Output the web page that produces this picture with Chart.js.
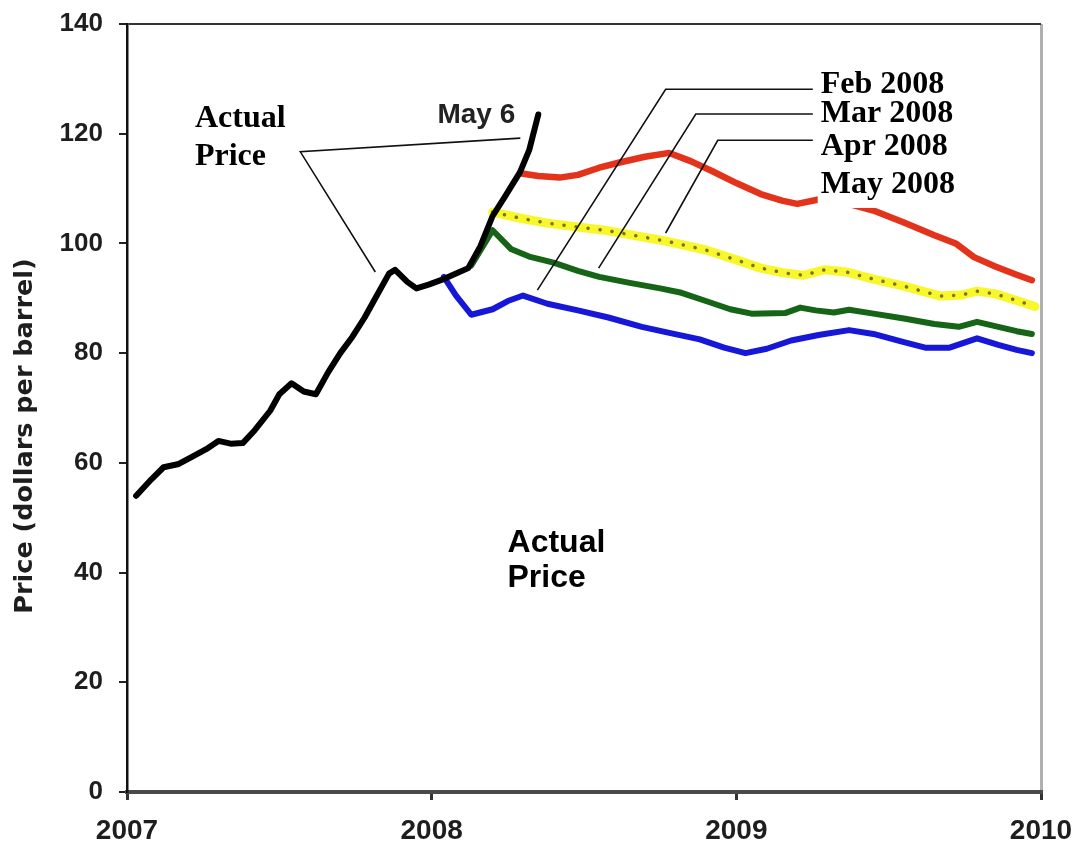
<!DOCTYPE html>
<html>
<head>
<meta charset="utf-8">
<script src="https://cdn.jsdelivr.net/npm/chart.js@4/dist/chart.umd.min.js"></script>
<style>
  body { margin: 0; background: #fff; }
  canvas { display: block; }
</style>
</head>
<body>
<canvas id="chart" width="1075" height="848"></canvas>
<script>
// actual price (black)
var actualX = [2007.03, 2007.08, 2007.12, 2007.17, 2007.21, 2007.26, 2007.30, 2007.34, 2007.38, 2007.42,
               2007.47, 2007.50, 2007.54, 2007.58, 2007.62, 2007.66, 2007.70, 2007.74, 2007.78, 2007.82,
               2007.86, 2007.88, 2007.92, 2007.95, 2007.99, 2008.03, 2008.08, 2008.12, 2008.16, 2008.20,
               2008.24, 2008.29, 2008.32, 2008.35];
var actualY = [54.0, 57.0, 59.2, 59.8, 61.0, 62.5, 64.0, 63.5, 63.6, 66.0,
               69.5, 72.5, 74.5, 73.0, 72.5, 76.5, 80.0, 83.0, 86.5, 90.5,
               94.5, 95.2, 93.0, 91.8, 92.5, 93.3, 94.5, 95.5, 99.5, 105.0,
               108.5, 113.0, 117.0, 123.5];

// May 2008 forecast (red)
var mayX = [2008.29, 2008.35, 2008.42, 2008.48, 2008.55, 2008.62, 2008.70, 2008.78, 2008.85, 2008.92,
            2009.00, 2009.08, 2009.15, 2009.20, 2009.27, 2009.35, 2009.45, 2009.55, 2009.65, 2009.72,
            2009.78, 2009.85, 2009.92, 2009.97];
var mayY = [112.8, 112.3, 112.0, 112.5, 113.8, 114.8, 115.8, 116.5, 115.0, 113.2,
            111.0, 109.0, 107.8, 107.2, 108.0, 107.5, 106.0, 103.8, 101.5, 100.0,
            97.5, 95.8, 94.3, 93.3];

// Apr 2008 forecast (yellow, dotted)
var aprX = [2008.20, 2008.30, 2008.38, 2008.48, 2008.58, 2008.69, 2008.78, 2008.90, 2009.00, 2009.08,
            2009.16, 2009.22, 2009.29, 2009.36, 2009.45, 2009.55, 2009.67, 2009.74, 2009.79, 2009.85,
            2009.92, 2009.98];
var aprY = [105.7, 104.5, 103.7, 103.0, 102.3, 101.2, 100.3, 98.8, 97.0, 95.5,
            94.6, 94.2, 95.2, 94.8, 93.5, 92.2, 90.4, 90.6, 91.3, 90.8,
            89.6, 88.5];

// Mar 2008 forecast (green)
var marX = [2008.13, 2008.20, 2008.26, 2008.32, 2008.40, 2008.48, 2008.55, 2008.65, 2008.75, 2008.82,
            2008.90, 2008.98, 2009.05, 2009.16, 2009.21, 2009.26, 2009.32, 2009.37, 2009.45, 2009.55,
            2009.65, 2009.73, 2009.79, 2009.86, 2009.92, 2009.97];
var marY = [96.0, 102.4, 99.0, 97.6, 96.5, 95.0, 93.9, 92.8, 91.8, 91.0,
            89.5, 88.0, 87.2, 87.3, 88.3, 87.8, 87.4, 87.9, 87.2, 86.3,
            85.3, 84.8, 85.7, 84.8, 84.0, 83.5];

// Feb 2008 forecast (blue)
var febX = [2008.04, 2008.08, 2008.13, 2008.20, 2008.25, 2008.30, 2008.38, 2008.48, 2008.58, 2008.69,
            2008.78, 2008.88, 2008.96, 2009.03, 2009.10, 2009.18, 2009.27, 2009.37, 2009.45, 2009.55,
            2009.62, 2009.70, 2009.79, 2009.86, 2009.92, 2009.97];
var febY = [93.9, 90.5, 87.0, 88.0, 89.5, 90.5, 89.0, 87.8, 86.5, 84.8,
            83.7, 82.5, 81.0, 80.0, 80.8, 82.3, 83.3, 84.2, 83.5, 82.0,
            81.0, 81.0, 82.7, 81.5, 80.6, 80.0];

var yearTicks = [2007, 2008, 2009, 2010];
var yTicks = [0, 20, 40, 60, 80, 100, 120, 140];

function pts(xs, ys) {
    return xs.map(function (x, i) { return { x: x, y: ys[i] }; });
}

function line(data, color, width, extra) {
    var ds = {
        data: data,
        borderColor: color,
        borderWidth: width,
        pointRadius: 0,
        tension: 0,
        fill: false,
        borderJoinStyle: 'round',
        borderCapStyle: 'round'
    };
    for (var k in extra) ds[k] = extra[k];
    return ds;
}

// annotations in data coordinates
var annotations = {
    labels: [
        { text: 'Actual', x: 2007.223, y: 121.2, font: 'bold 32px "Liberation Serif"' },
        { text: 'Price', x: 2007.223, y: 114.3, font: 'bold 32px "Liberation Serif"' },
        { text: 'May 6', x: 2008.019, y: 122.0, font: 'bold 28px "Liberation Sans"', color: '#222' },
        { text: 'Feb 2008', x: 2009.277, y: 127.4, font: 'bold 32px "Liberation Serif"' },
        { text: 'Mar 2008', x: 2009.277, y: 122.1, font: 'bold 32px "Liberation Serif"' },
        { text: 'Apr 2008', x: 2009.277, y: 116.1, font: 'bold 32px "Liberation Serif"' },
        { text: 'May 2008', x: 2009.277, y: 109.2, font: 'bold 32px "Liberation Serif"', box: true },
        { text: 'Actual', x: 2008.249, y: 43.8, font: 'bold 32px "Liberation Sans"' },
        { text: 'Price', x: 2008.249, y: 37.4, font: 'bold 32px "Liberation Sans"' }
    ],
    leaders: [
        [[2007.815, 94.8], [2007.569, 116.7], [2008.291, 119.2]],
        [[2008.347, 91.5], [2008.768, 128.1], [2009.251, 128.1]],
        [[2008.548, 95.5], [2008.867, 123.6], [2009.251, 123.6]],
        [[2008.768, 101.9], [2008.939, 118.8], [2009.251, 118.8]]
    ]
};

var annotationPlugin = {
    id: 'annotationPlugin',
    afterDatasetsDraw: function (chart) {
        var ctx = chart.ctx;
        var xs = chart.scales.x, ys = chart.scales.y;
        ctx.save();
        ctx.strokeStyle = '#111';
        ctx.lineWidth = 1.6;
        annotations.leaders.forEach(function (l) {
            ctx.beginPath();
            l.forEach(function (p, i) {
                var px = xs.getPixelForValue(p[0]), py = ys.getPixelForValue(p[1]);
                if (i === 0) ctx.moveTo(px, py); else ctx.lineTo(px, py);
            });
            ctx.stroke();
        });
        ctx.textAlign = 'left';
        ctx.textBaseline = 'alphabetic';
        annotations.labels.forEach(function (a) {
            var px = xs.getPixelForValue(a.x), py = ys.getPixelForValue(a.y);
            ctx.font = a.font;
            if (a.box) {
                var w = ctx.measureText(a.text).width;
                ctx.fillStyle = '#fff';
                ctx.fillRect(px - 3, py - 25, w + 8, 40);
            }
            ctx.fillStyle = a.color || '#000';
            ctx.fillText(a.text, px, py);
        });
        ctx.restore();
    },
    afterDraw: function (chart) {
        var ctx = chart.ctx;
        ctx.save();
        ctx.translate(25, 436);
        ctx.rotate(-Math.PI / 2);
        ctx.font = 'bold 25.5px "DejaVu Sans"';
        ctx.fillStyle = '#1e1e1e';
        ctx.textAlign = 'center';
        ctx.textBaseline = 'middle';
        ctx.fillText('Price (dollars per barrel)', 0, 0);
        ctx.restore();
    }
};

new Chart(document.getElementById('chart'), {
    type: 'line',
    data: {
        datasets: [
            line(pts(actualX, actualY), '#000', 6),
            line(pts(aprX, aprY), '#7a7220', 3.5, { borderDash: [0.1, 12], borderCapStyle: 'round' }),
            line(pts(aprX, aprY), '#f8f72a', 9),
            line(pts(mayX, mayY), '#e3341b', 6.5),
            line(pts(marX, marY), '#166416', 6),
            line(pts(febX, febY), '#1717d8', 6)
        ]
    },
    options: {
        responsive: false,
        animation: false,
        layout: { padding: { top: 24, right: 34, left: 0, bottom: 0 } },
        plugins: { legend: { display: false }, tooltip: { enabled: false } },
        scales: {
            x: {
                type: 'linear',
                min: 2007,
                max: 2010,
                afterFit: function (s) {
                    s.height = 56;
                    s.paddingLeft = 0;
                    s.paddingRight = 0;
                },
                afterBuildTicks: function (s) { s.ticks = yearTicks.map(function (v) { return { value: v }; }); },
                ticks: {
                    padding: 14,
                    color: '#1e1e1e',
                    font: { family: 'Liberation Sans', weight: 'bold', size: 28 },
                    callback: function (v) { return String(v); }
                },
                border: { display: true, color: '#4a4a4a', width: 4 },
                grid: {
                    drawOnChartArea: true,
                    color: function (c) { return c.tick && c.tick.value === 2010 ? '#b0b0b0' : 'rgba(0,0,0,0)'; },
                    lineWidth: 3,
                    tickColor: '#333',
                    tickLength: 8
                }
            },
            y: {
                min: 0,
                max: 140,
                afterFit: function (s) {
                    s.width = 127;
                    s.paddingTop = 0;
                    s.paddingBottom = 0;
                },
                afterBuildTicks: function (s) { s.ticks = yTicks.map(function (v) { return { value: v }; }); },
                ticks: {
                    padding: 16,
                    color: '#1e1e1e',
                    font: { family: 'Liberation Sans', weight: 'bold', size: 26 }
                },
                border: { display: true, color: '#111', width: 2.5 },
                grid: {
                    drawOnChartArea: true,
                    color: function (c) { return c.tick && c.tick.value === 140 ? '#333' : 'rgba(0,0,0,0)'; },
                    lineWidth: 2,
                    tickColor: '#222',
                    tickLength: 8
                }
            }
        }
    },
    plugins: [annotationPlugin]
});
</script>
</body>
</html>
